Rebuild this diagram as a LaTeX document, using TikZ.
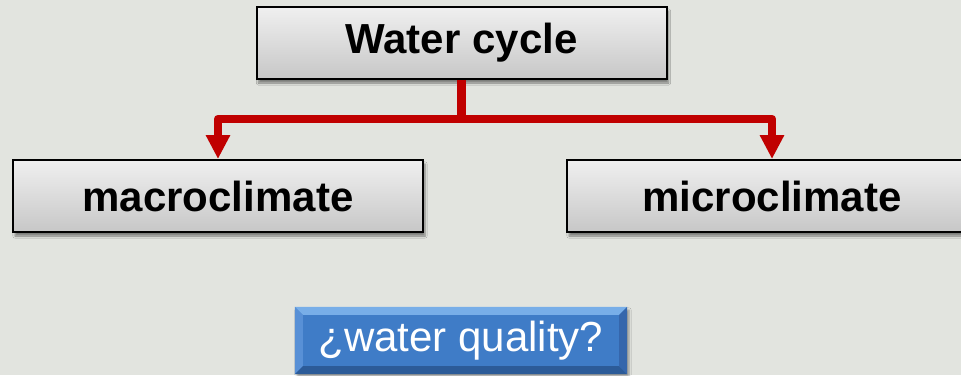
\documentclass[tikz,border=0pt]{standalone}
\usepackage{fontspec}
\setmainfont{Liberation Sans}
\usetikzlibrary{arrows.meta,shadows.blur,calc}
\definecolor{bgc}{HTML}{E2E4DF}
\definecolor{redc}{HTML}{C00000}
\definecolor{bface}{HTML}{3F7CC7}
\definecolor{btop}{HTML}{78AEE8}
\definecolor{bleft}{HTML}{5890D6}
\definecolor{bbottom}{HTML}{2C5B98}
\definecolor{bright}{HTML}{3566AC}
\tikzset{
  graybox/.style={draw=black, line width=2pt, top color=black!6, bottom color=black!22,
    minimum width=410pt, minimum height=72pt, inner sep=0pt,
    font=\fontsize{42}{48}\selectfont\bfseries,
    blur shadow={shadow xshift=2pt, shadow yshift=-4pt, shadow blur steps=6, shadow opacity=45}},
  bluebox/.style={fill=bface, minimum width=332pt, minimum height=67pt, inner sep=0pt,
    text=white, font=\fontsize{42}{48}\selectfont,
    blur shadow={shadow xshift=2pt, shadow yshift=-3pt, shadow blur steps=5, shadow opacity=35}},
  redline/.style={draw=redc, line width=8.5pt, line join=round},
  redarrow/.style={redline, -{Triangle[width=23pt,length=24pt]}}
}
\begin{document}
\begin{tikzpicture}[x=1pt,y=-1pt]
\fill[bgc] (0,0) rectangle (961,375);
\useasboundingbox (0,0) rectangle (961,375);
\clip (0,0) rectangle (961,375);
\node[graybox] (wc) at (461.5,43) {Water cycle};
\node[graybox] (macro) at (218,196) {macroclimate};
\node[graybox] (micro) at (772,196) {microclimate};
\node[bluebox] (wq) at (461,340.5) {\vphantom{Qy}};
% bevel
\fill[btop] (wq.north west) -- (wq.north east) -- ($(wq.north east)+(-8,8)$) -- ($(wq.north west)+(8,8)$) -- cycle;
\fill[bleft] (wq.north west) -- ($(wq.north west)+(8,8)$) -- ($(wq.south west)+(8,-8)$) -- (wq.south west) -- cycle;
\fill[bbottom] (wq.south west) -- ($(wq.south west)+(8,-8)$) -- ($(wq.south east)+(-8,-8)$) -- (wq.south east) -- cycle;
\fill[bright] (wq.north east) -- ($(wq.north east)+(-8,8)$) -- ($(wq.south east)+(-8,-8)$) -- (wq.south east) -- cycle;
\node[text=white, font=\fontsize{42}{48}\selectfont] (wqt) at (wq.center) {¿water quality?};
% connectors
\coordinate (j) at (461.5,119);
\draw[redline] (wc.south) -- (j);
\draw[redarrow] (j) -| (macro.north);
\draw[redarrow] (j) -| (micro.north);
\end{tikzpicture}
\end{document}
